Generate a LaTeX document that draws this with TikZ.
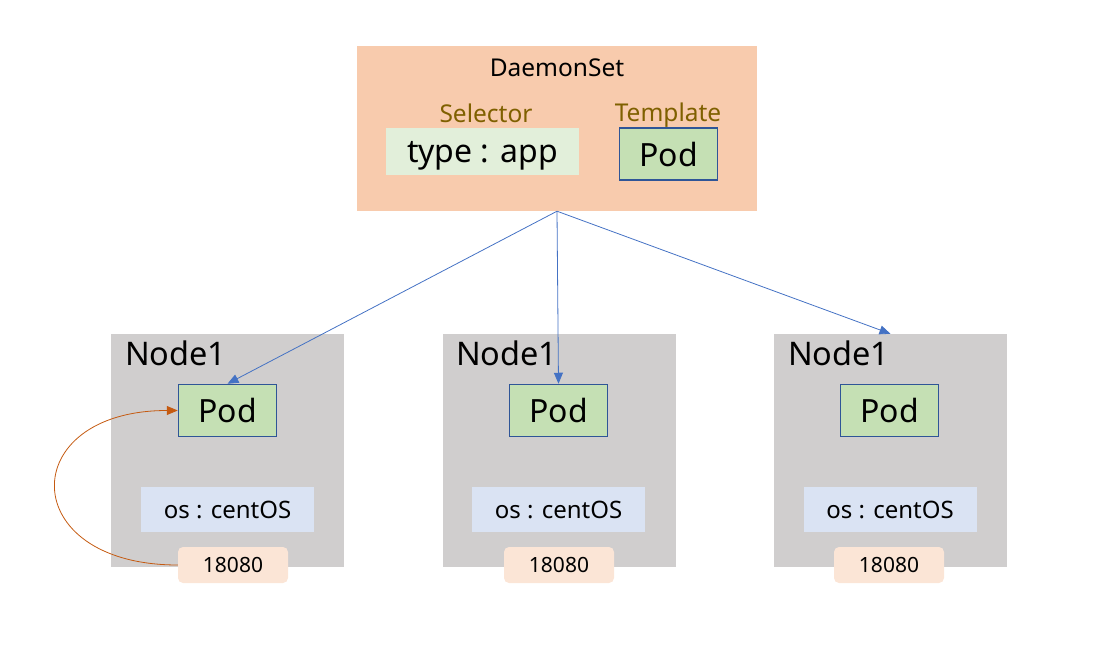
\documentclass[tikz,border=0pt]{standalone}
\usepackage{fontspec}
\setmainfont{Noto Sans}
\usepackage{tikz}
\usetikzlibrary{arrows.meta}

\definecolor{dspeach}{HTML}{F8CBAD}
\definecolor{labelbrown}{HTML}{7F6000}
\definecolor{selgreen}{HTML}{E2EFDA}
\definecolor{podgreen}{HTML}{C5E0B4}
\definecolor{podblue}{HTML}{2F5597}
\definecolor{hostgray}{HTML}{D0CECE}
\definecolor{osblue}{HTML}{DAE3F3}
\definecolor{portpeach}{HTML}{FBE5D6}
\definecolor{linkblue}{HTML}{4472C4}
\definecolor{looporange}{HTML}{C55A11}

\begin{document}
\begin{tikzpicture}[x=1pt,y=-1pt,
    host/.style={fill=hostgray,minimum width=233pt,minimum height=233pt,inner sep=0pt},
    pod/.style={draw=podblue,line width=1.5pt,fill=podgreen,minimum width=98pt,minimum height=52pt,inner sep=0pt,font=\fontsize{32}{34}\selectfont},
    oslabel/.style={fill=osblue,minimum width=173pt,minimum height=45pt,inner sep=0pt,font=\fontsize{24}{26}\selectfont},
    port/.style={fill=portpeach,rounded corners=5pt,minimum width=110pt,minimum height=36pt,inner sep=0pt,font=\fontsize{21}{23}\selectfont},
    hostname/.style={anchor=west,inner sep=0pt,font=\fontsize{32.5}{34}\selectfont},
    link/.style={draw=linkblue,line width=0.8pt,-{Triangle[length=11pt,width=9pt]}}]
    \useasboundingbox (0,0) rectangle (1101,645);
    % daemonset
    \node[fill=dspeach,minimum width=400pt,minimum height=165pt,inner sep=0pt] (ds) at (557,128.5) {};
    \node[font=\fontsize{24.5}{26}\selectfont] (dsname) at (557,68) {DaemonSet};
    \node[text=labelbrown,font=\fontsize{24.5}{26}\selectfont] (sel) at (486,113) {Selector};
    \node[text=labelbrown,font=\fontsize{24.5}{26}\selectfont] (tmpl) at (668,115) {Template};
    \node[fill=selgreen,minimum width=193pt,minimum height=47pt,inner sep=0pt,text height=25pt,text depth=3pt,font=\fontsize{32}{34}\selectfont] (type) at (482.5,151.5) {type : app};
    \node[pod] (tpod) at (668.5,154) {Pod};
    % nodes
    \node[host] (n1) at (227.5,450.5) {};
    \node[host] (n2) at (559.5,450.5) {};
    \node[host] (n3) at (890.5,450.5) {};
    \node[hostname] (h1) at (125,353) {Node1};
    \node[hostname] (h2) at (456,353) {Node1};
    \node[hostname] (h3) at (788,353) {Node1};
    \node[pod] (p1) at (227.5,410.5) {Pod};
    \node[pod] (p2) at (558.5,410.5) {Pod};
    \node[pod] (p3) at (889.5,410.5) {Pod};
    \node[oslabel] (os1) at (227.5,509.5) {os : centOS};
    \node[oslabel] (os2) at (558.5,509.5) {os : centOS};
    \node[oslabel] (os3) at (890,509.5) {os : centOS};
    \node[port] (port1) at (233,565) {18080};
    \node[port] (port2) at (559,565) {18080};
    \node[port] (port3) at (889,565) {18080};
    % links
    \draw[link] (ds.south) -- (p1.north);
    \draw[link] (ds.south) -- (p2.north);
    \draw[link] (ds.south) -- (n3.north);
    % port to pod
    \draw[looporange,line width=0.8pt,-{Triangle[length=11pt,width=9pt]}] (port1.west) to[out=180,in=180,looseness=2.7] (p1.west);
\end{tikzpicture}
\end{document}
